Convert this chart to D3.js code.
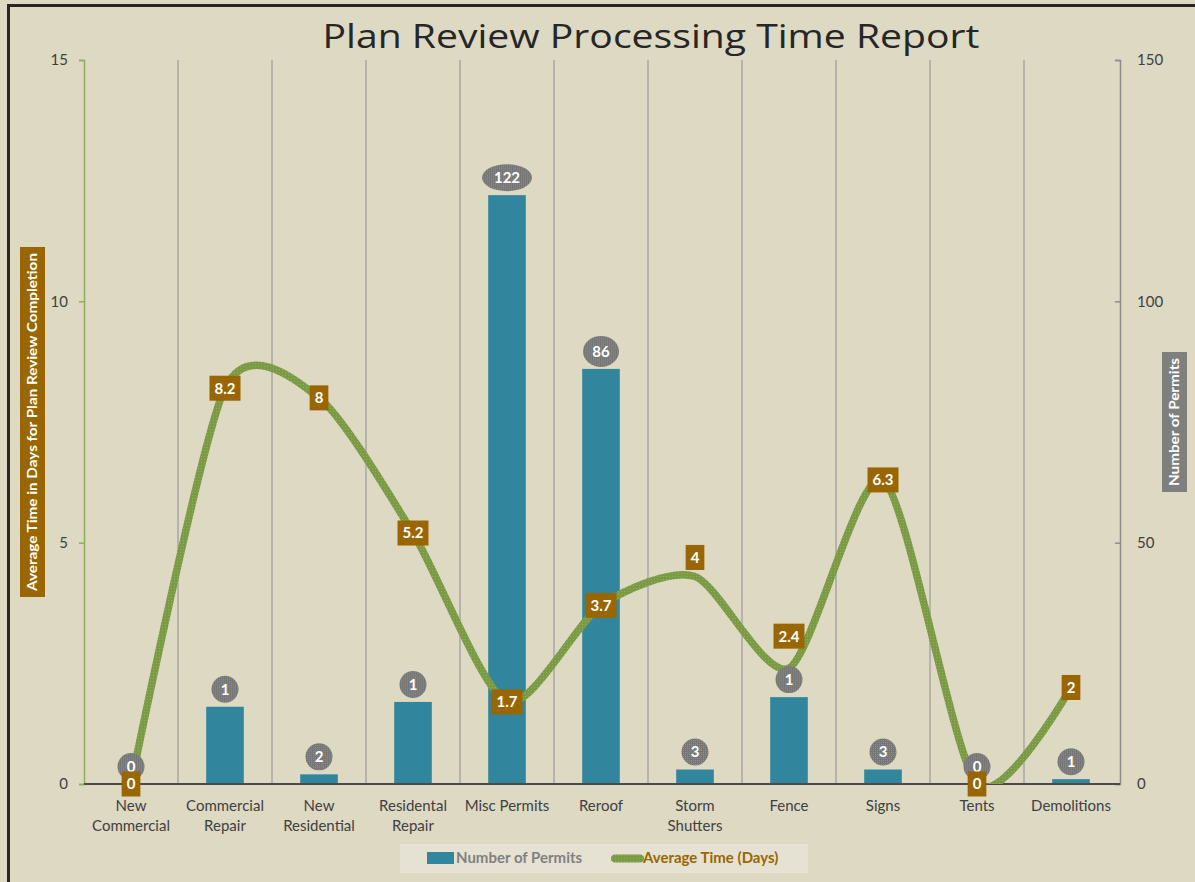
<html>
<head>
  <title>Plan Review Processing Time Report</title>
  <script src="https://d3js.org/d3.v7.min.js" charset="utf-8"></script>
  <style>
    body { margin: 0; background: #ddd9c3; }
    text { font-family: Lato, "Open Sans", sans-serif; }
  </style>
</head>
<body>
  <script>
    var width = 1195,
        height = 882;

    // chart values
    var categories = ["New Commercial", "Commercial Repair", "New Residential", "Residental Repair",
                      "Misc Permits", "Reroof", "Storm Shutters", "Fence", "Signs", "Tents", "Demolitions"];
    var categoryLines = [["New", "Commercial"], ["Commercial", "Repair"], ["New", "Residential"],
                         ["Residental", "Repair"], ["Misc Permits"], ["Reroof"], ["Storm", "Shutters"],
                         ["Fence"], ["Signs"], ["Tents"], ["Demolitions"]];
    var permitBars = [0, 16, 2, 17, 122, 86, 3, 18, 3, 0, 1];      // bar heights as drawn
    var permitLabels = [0, 1, 2, 1, 122, 86, 3, 1, 3, 0, 1];       // labels shown on bars
    var avgDays = [0, 8.2, 8, 5.2, 1.7, 3.7, 4.3, 2.4, 6.3, 0, 2];  // line as drawn
    var avgLabels = ["0", "8.2", "8", "5.2", "1.7", "3.7", "4", "2.4", "6.3", "0", "2"];
    var leftTicks = [0, 5, 10, 15];
    var rightTicks = [0, 50, 100, 150];

    // a couple of line labels sit above their point
    var labelShift = { "Storm Shutters": -19, "Fence": -32 };

    var plotLeft = 84, plotRight = 1118, plotTop = 60, plotBottom = 784;

    var svg = d3.select("body")
                .append("svg")
                .attr("width", width)
                .attr("height", height);

    var defs = svg.append("defs");
    defs.append("clipPath").attr("id", "plot")
        .append("rect").attr("x", plotLeft).attr("y", plotTop - 20)
        .attr("width", plotRight - plotLeft).attr("height", plotBottom - plotTop + 20);

    // textured fills like the excel pattern
    var lp = defs.append("pattern").attr("id", "lineTex").attr("patternUnits", "userSpaceOnUse")
        .attr("width", 3).attr("height", 3);
    lp.append("rect").attr("width", 3).attr("height", 3).attr("fill", "#7a9a44");
    lp.append("rect").attr("width", 1).attr("height", 1).attr("fill", "#93ae62");
    var gp = defs.append("pattern").attr("id", "greyTex").attr("patternUnits", "userSpaceOnUse")
        .attr("width", 2).attr("height", 2);
    gp.append("rect").attr("width", 2).attr("height", 2).attr("fill", "#767676");
    gp.append("rect").attr("width", 1).attr("height", 1).attr("fill", "#8e8e8e");

    svg.append("rect").attr("width", width).attr("height", height).attr("fill", "#ddd9c3");
    // chart frame (top + left edges)
    svg.append("path").attr("d", "M8.5,882 V5.5 H1195")
       .attr("fill", "none").attr("stroke", "#262626").attr("stroke-width", 3);

    var x = d3.scaleBand().domain(categories).range([plotLeft, plotRight]);
    var yL = d3.scaleLinear().domain([0, 15]).range([plotBottom, plotTop]);
    var yR = d3.scaleLinear().domain([0, 150]).range([plotBottom, plotTop]);

    // title
    svg.append("text")
       .attr("x", 651).attr("y", 48)
       .attr("text-anchor", "middle")
       .attr("font-size", 33)
       .attr("fill", "#262626")
       .style("font-family", "'Open Sans', sans-serif")
       .attr("textLength", 657).attr("lengthAdjust", "spacingAndGlyphs")
       .text("Plan Review Processing Time Report");

    // vertical gridlines between categories
    svg.append("g").selectAll("line")
       .data(categories.slice(1))
       .enter().append("line")
       .attr("x1", function(d) { return x(d); })
       .attr("x2", function(d) { return x(d); })
       .attr("y1", plotTop).attr("y2", plotBottom)
       .attr("stroke", "#a6a6a6").attr("stroke-width", 1.5);

    // bars
    svg.append("g").selectAll("rect")
       .data(categories)
       .enter().append("rect")
       .attr("x", function(d) { return x(d) + x.bandwidth() * 0.3; })
       .attr("width", x.bandwidth() * 0.4)
       .attr("y", function(d, i) { return yR(permitBars[i]); })
       .attr("height", function(d, i) { return plotBottom - yR(permitBars[i]); })
       .attr("fill", "#31859c");

    // left axis
    var axL = svg.append("g").attr("transform", "translate(" + plotLeft + ",0)")
       .call(d3.axisLeft(yL).tickValues(leftTicks).tickSize(5).tickPadding(11));
    axL.selectAll("path, line").attr("stroke", "#8fae55").attr("stroke-width", 1.5);
    axL.selectAll("text").attr("font-size", 15).attr("fill", "#404040")
       .style("font-family", "Lato, sans-serif");

    // right axis
    var axR = svg.append("g").attr("transform", "translate(" + (plotRight + 2) + ",0)")
       .call(d3.axisRight(yR).tickValues(rightTicks).tickSizeInner(-5).tickSizeOuter(-5).tickPadding(17));
    axR.selectAll("path, line").attr("stroke", "#8c8c8c").attr("stroke-width", 1.5);
    axR.selectAll("text").attr("font-size", 15).attr("fill", "#404040")
       .style("font-family", "Lato, sans-serif");

    // category axis
    svg.append("line").attr("x1", plotLeft).attr("x2", plotRight + 2)
       .attr("y1", plotBottom).attr("y2", plotBottom)
       .attr("stroke", "#4a4a4a").attr("stroke-width", 2);
    var xl = svg.append("g").selectAll("text")
       .data(categories)
       .enter().append("text")
       .attr("x", function(d) { return x(d) + x.bandwidth() / 2; })
       .attr("y", 811)
       .attr("text-anchor", "middle")
       .attr("font-size", 15)
       .attr("fill", "#404040");
    xl.each(function(d, i) {
      var t = d3.select(this);
      categoryLines[i].forEach(function(s, j) {
        t.append("tspan").attr("x", x(d) + x.bandwidth() / 2).attr("dy", j ? 20 : 0).text(s);
      });
    });

    // average time line
    var line = d3.line()
       .x(function(d, i) { return x(categories[i]) + x.bandwidth() / 2; })
       .y(function(d) { return yL(d); })
       .curve(d3.curveCardinal.tension(0.25));
    svg.append("path")
       .datum(avgDays)
       .attr("clip-path", "url(#plot)")
       .attr("d", line)
       .attr("fill", "none")
       .attr("stroke", "url(#lineTex)")
       .attr("stroke-width", 7.5);

    // bar labels
    var bl = svg.append("g").selectAll("g")
       .data(categories)
       .enter().append("g")
       .attr("transform", function(d, i) {
         return "translate(" + (x(d) + x.bandwidth() / 2) + "," + (yR(permitBars[i]) - 17.5) + ")";
       });
    bl.append("ellipse")
       .attr("rx", function(d, i) { var n = String(permitLabels[i]).length; return n > 2 ? 25 : (n > 1 ? 18 : 13.5); })
       .attr("ry", function(d, i) { var n = String(permitLabels[i]).length; return n > 2 ? 13.5 : (n > 1 ? 15.5 : 13.5); })
       .attr("fill", "url(#greyTex)");
    bl.append("text")
       .attr("text-anchor", "middle").attr("dy", "0.36em")
       .attr("font-size", 15).attr("font-weight", "bold")
       .attr("fill", "#ffffff")
       .text(function(d, i) { return permitLabels[i]; });

    // line labels
    var ll = svg.append("g").selectAll("g")
       .data(categories)
       .enter().append("g")
       .attr("transform", function(d, i) {
         var yy = yL(avgDays[i]) + (labelShift[d] || 0);
         return "translate(" + (x(d) + x.bandwidth() / 2) + "," + yy + ")";
       });
    ll.append("text")
       .attr("text-anchor", "middle").attr("dy", "0.36em")
       .attr("font-size", 15).attr("font-weight", "bold")
       .attr("fill", "#ffffff")
       .text(function(d, i) { return avgLabels[i]; });
    ll.insert("rect", "text")
       .each(function() {
         var w = this.parentNode.querySelector("text").getComputedTextLength() + 10;
         d3.select(this).attr("x", -w / 2).attr("width", w);
       })
       .attr("y", -12.5).attr("height", 25)
       .attr("fill", "#996600");

    // axis titles
    var t1 = svg.append("g").attr("transform", "translate(32.5,422) rotate(-90)");
    t1.append("rect").attr("x", -175).attr("y", -12.5).attr("width", 350).attr("height", 25).attr("fill", "#996600");
    t1.append("text").attr("text-anchor", "middle").attr("dy", "0.36em")
      .attr("font-size", 13).attr("font-weight", "bold").attr("fill", "#ffffff")
      .attr("textLength", 338).attr("lengthAdjust", "spacingAndGlyphs")
      .text("Average Time in Days for Plan Review Completion");

    var t2 = svg.append("g").attr("transform", "translate(1174.5,422) rotate(-90)");
    t2.append("rect").attr("x", -70).attr("y", -12.5).attr("width", 140).attr("height", 25).attr("fill", "#7f7f7f");
    t2.append("text").attr("text-anchor", "middle").attr("dy", "0.36em")
      .attr("font-size", 13).attr("font-weight", "bold").attr("fill", "#ffffff")
      .attr("textLength", 128).attr("lengthAdjust", "spacingAndGlyphs")
      .text("Number of Permits");

    // legend
    var lg = svg.append("g");
    lg.append("rect").attr("x", 400).attr("y", 844).attr("width", 408).attr("height", 29).attr("fill", "#e5e2d4");
    lg.append("rect").attr("x", 427).attr("y", 852).attr("width", 27).attr("height", 12).attr("fill", "#31859c");
    lg.append("text").attr("x", 456).attr("y", 863).attr("font-size", 15).attr("font-weight", "bold")
      .attr("fill", "#808080").text("Number of Permits");
    lg.append("line").attr("x1", 615).attr("x2", 640).attr("y1", 858.5).attr("y2", 858.5)
      .attr("stroke", "url(#lineTex)").attr("stroke-width", 8).attr("stroke-linecap", "round");
    lg.append("text").attr("x", 643).attr("y", 863).attr("font-size", 15).attr("font-weight", "bold")
      .attr("fill", "#996600").text("Average Time (Days)");
  </script>
</body>
</html>
